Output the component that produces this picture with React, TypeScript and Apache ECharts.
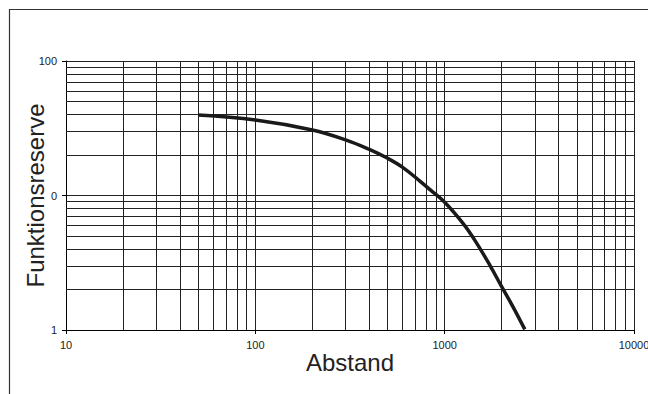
import React, { useEffect, useRef } from "react";
import * as echarts from "echarts";

const distance = [50, 100, 200, 300, 400, 500, 600, 740, 840, 1000, 1250, 1450, 1740, 2000, 2300, 2650];
const reserve = [39.6, 36.4, 30.7, 25.9, 22.0, 18.9, 16.2, 12.8, 11.0, 8.9, 6.2, 4.6, 3.0, 2.1, 1.48, 1.01];

const xMinorGrid = [20, 30, 40, 50, 60, 70, 80, 90, 200, 300, 400, 500, 600, 700, 800, 900, 2000, 3000, 4000, 5000, 6000, 7000, 8000, 9000];
const yMinorGrid = [2, 3, 4, 5, 6, 7, 8, 9, 20, 30, 40, 50, 60, 70, 80, 90];

const xTickValues = [10, 100, 1000, 10000];
const xTickLabels = ["10", "100", "1000", "10000"];
const yTickValues = [1, 10, 100];
const yTickLabels = ["1", "0", "100"];

const xName = "Abstand";
const yName = "Funktionsreserve";

function pick(values: number[], labels: string[], v: number) {
  const i = values.findIndex((t) => Math.abs(t - v) < 1e-6 * t);
  return i >= 0 ? labels[i] : "";
}

export default function App() {
  const ref = useRef<HTMLDivElement>(null);
  useEffect(() => {
    if (!ref.current) return;
    const chart = echarts.init(ref.current, null, { renderer: "svg" });
    const font = "Liberation Sans, Arial, sans-serif";
    const gridColor = "#222";
    const markData = [
      ...xMinorGrid.map((v) => ({ xAxis: v })),
      ...yMinorGrid.map((v) => ({ yAxis: v })),
    ];
    chart.setOption({
      animation: false,
      backgroundColor: "#fff",
      grid: { left: 66, top: 61, right: 14, bottom: 64, containLabel: false, outerBoundsMode: "none" },
      graphic: [
        {
          type: "rect",
          shape: { x: 9.5, y: 9.5, width: 800, height: 600 },
          style: { fill: "none", stroke: "#333", lineWidth: 1.2 },
          silent: true,
          z: 0,
        },
      ],
      xAxis: {
        type: "log",
        logBase: 10,
        min: 10,
        max: 10000,
        name: xName,
        nameLocation: "middle",
        nameGap: 20,
        nameMoveOverlap: false,
        nameTextStyle: { fontFamily: font, fontSize: 24, color: "#222" },
        axisLine: { show: true, lineStyle: { color: "#000", width: 1 } },
        axisTick: { show: true, length: 4, lineStyle: { color: "#000" } },
        axisLabel: {
          margin: 9,
          fontFamily: font,
          fontSize: 11,
          color: "#222",
          hideOverlap: false,
          formatter: (v: number) => pick(xTickValues, xTickLabels, v),
        },
        splitLine: { show: true, lineStyle: { color: gridColor, width: 1 } },
        minorTick: { show: false },
      },
      yAxis: {
        type: "log",
        logBase: 10,
        min: 1,
        max: 100,
        name: yName,
        nameLocation: "middle",
        nameRotate: 90,
        nameGap: 19,
        nameMoveOverlap: false,
        nameTextStyle: { fontFamily: font, fontSize: 24, color: "#222" },
        axisLine: { show: true, lineStyle: { color: "#000", width: 1 } },
        axisTick: { show: true, length: 4, lineStyle: { color: "#000" } },
        axisLabel: {
          margin: 9,
          fontFamily: font,
          fontSize: 11,
          color: "#222",
          formatter: (v: number) => pick(yTickValues, yTickLabels, v),
        },
        splitLine: { show: true, lineStyle: { color: gridColor, width: 1 } },
      },
      series: [
        {
          type: "line",
          data: distance.map((d, i) => [d, reserve[i]]),
          smooth: 0.4,
          showSymbol: false,
          symbol: "none",
          lineStyle: { color: "#1a1a1a", width: 3.5 },
          z: 5,
          markLine: {
            silent: true,
            symbol: "none",
            label: { show: false },
            lineStyle: { color: gridColor, width: 1, type: "solid" },
            data: markData,
            z: 1,
          },
        },
      ],
    });
    return () => chart.dispose();
  }, []);
  return (
    <div
      ref={ref}
      style={{ position: "fixed", left: 0, top: 0, width: 648, height: 394 }}
    />
  );
}
